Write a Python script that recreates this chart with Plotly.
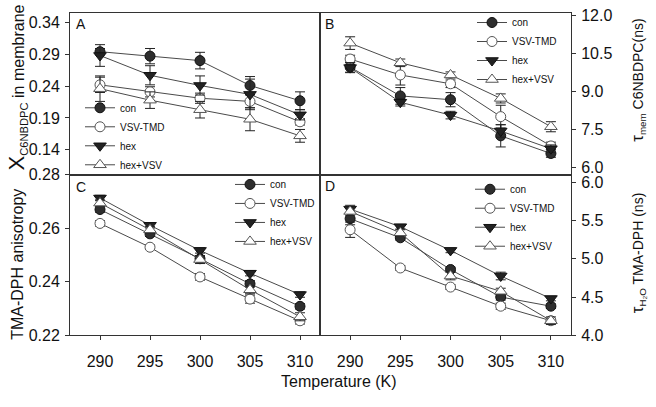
import plotly.graph_objects as go

temps = [290, 295, 300, 305, 310]
series = ["con", "VSV-TMD", "hex", "hex+VSV"]

# Panel A: X_C6NBDPC in membrane
a_con = [0.294, 0.287, 0.280, 0.241, 0.217]
a_con_err = [0.005, 0.012, 0.013, 0.014, 0.014]
a_vsv = [0.242, 0.231, 0.221, 0.216, 0.184]
a_vsv_err = [0.012, 0.008, 0.008, 0.010, 0.005]
a_hex = [0.288, 0.257, 0.241, 0.227, 0.195]
a_hex_err = [0.017, 0.015, 0.015, 0.024, 0.008]
a_hv = [0.236, 0.218, 0.203, 0.188, 0.162]
a_hv_err = [0.020, 0.013, 0.013, 0.018, 0.010]

# Panel B: tau_mem C6NBDPC (ns)
b_con = [9.96, 8.82, 8.67, 7.24, 6.54]
b_con_err = [0.20, 0.33, 0.28, 0.44, 0.15]
b_vsv = [10.28, 9.65, 9.30, 8.00, 6.84]
b_vsv_err = [0.15, 0.40, 0.15, 0.45, 0.15]
b_hex = [9.94, 8.57, 8.06, 7.43, 6.73]
b_hex_err = [0.20, 0.15, 0.15, 0.25, 0.15]
b_hv = [10.91, 10.13, 9.65, 8.72, 7.60]
b_hv_err = [0.25, 0.15, 0.12, 0.18, 0.20]

# Panel C: TMA-DPH anisotropy
c_con = [0.2670, 0.2579, 0.2486, 0.2392, 0.2308]
c_con_err = [0.0010, 0.0010, 0.0010, 0.0012, 0.0010]
c_vsv = [0.2618, 0.2529, 0.2418, 0.2335, 0.2254]
c_vsv_err = [0.0010, 0.0008, 0.0012, 0.0015, 0.0012]
c_hex = [0.2713, 0.2611, 0.2517, 0.2432, 0.2352]
c_hex_err = [0.0010, 0.0010, 0.0010, 0.0010, 0.0010]
c_hv = [0.2694, 0.2594, 0.2483, 0.2370, 0.2269]
c_hv_err = [0.0012, 0.0012, 0.0015, 0.0015, 0.0015]

# Panel D: tau_H2O TMA-DPH (ns)
d_con = [5.525, 5.275, 4.86, 4.50, 4.38]
d_con_err = [0.08, 0.03, 0.03, 0.04, 0.03]
d_vsv = [5.38, 4.88, 4.63, 4.38, 4.19]
d_vsv_err = [0.10, 0.03, 0.03, 0.04, 0.03]
d_hex = [5.65, 5.42, 5.11, 4.775, 4.48]
d_hex_err = [0.05, 0.03, 0.03, 0.05, 0.03]
d_hv = [5.62, 5.34, 4.775, 4.575, 4.19]
d_hv_err = [0.05, 0.04, 0.05, 0.04, 0.05]

panels = [
    ([a_con, a_vsv, a_hex, a_hv], [a_con_err, a_vsv_err, a_hex_err, a_hv_err]),
    ([b_con, b_vsv, b_hex, b_hv], [b_con_err, b_vsv_err, b_hex_err, b_hv_err]),
    ([c_con, c_vsv, c_hex, c_hv], [c_con_err, c_vsv_err, c_hex_err, c_hv_err]),
    ([d_con, d_vsv, d_hex, d_hv], [d_con_err, d_vsv_err, d_hex_err, d_hv_err]),
]

styles = [
    dict(symbol="circle", size=10, color="#2e2e2e", line=dict(color="#111111", width=1)),
    dict(symbol="circle", size=10, color="#ffffff", line=dict(color="#555555", width=1)),
    dict(symbol="triangle-down", size=11, color="#222222", line=dict(color="#111111", width=1)),
    dict(symbol="triangle-up", size=11, color="#ffffff", line=dict(color="#555555", width=1)),
]

FONT = "Liberation Sans, Arial, sans-serif"
TXT = "#111111"
fig = go.Figure()
legend_names = ["legend", "legend2", "legend3", "legend4"]
for p, (vals, errs) in enumerate(panels):
    ax = "" if p == 0 else str(p + 1)
    for s in range(4):
        fig.add_trace(go.Scatter(
            x=temps, y=vals[s], name=series[s], mode="lines+markers",
            xaxis="x" + ax, yaxis="y" + ax,
            line=dict(color="#4a4a4a", width=1),
            marker=styles[s],
            error_y=dict(type="data", array=errs[s], color="#222222", thickness=1, width=5),
            legend=legend_names[p],
        ))

W, H = 656, 407
x0, xm, x1 = 70 / W, 320 / W, 571 / W
yt, ym, yb = 1 - 5 / H, 1 - 174 / H, 1 - 341.5 / H

tickfont = dict(family=FONT, size=16, color=TXT)
base_x = dict(range=[287, 312], showgrid=False, zeroline=False, showline=True, mirror=True,
              linecolor="#333333", linewidth=1, tickvals=temps)
base_y = dict(showgrid=False, zeroline=False, showline=True, mirror=True,
              linecolor="#333333", linewidth=1, ticks="outside", ticklen=4, tickcolor="#333333",
              tickfont=tickfont, ticklabelstandoff=2)

fig.update_layout(
    width=W, height=H, margin=dict(l=0, r=0, t=0, b=0),
    paper_bgcolor="white", plot_bgcolor="white",
    font=dict(family=FONT, color=TXT),
    xaxis=dict(base_x, domain=[x0, xm], anchor="y", showticklabels=False, ticks=""),
    xaxis2=dict(base_x, domain=[xm, x1], anchor="y2", showticklabels=False, ticks=""),
    xaxis3=dict(base_x, domain=[x0, xm], anchor="y3", ticks="outside", ticklen=4,
                tickcolor="#333333", tickfont=tickfont, ticklabelstandoff=8),
    xaxis4=dict(base_x, domain=[xm, x1], anchor="y4", ticks="outside", ticklen=4,
                tickcolor="#333333", tickfont=tickfont, ticklabelstandoff=8),
    yaxis=dict(base_y, domain=[ym, yt], anchor="x", range=[0.101, 0.355],
               tickvals=[0.14, 0.19, 0.24, 0.29, 0.34], tickformat=".2f"),
    yaxis2=dict(base_y, domain=[ym, yt], anchor="x2", side="right", range=[5.70, 12.11],
                tickvals=[6.0, 7.5, 9.0, 10.5, 12.0], tickformat=".1f"),
    yaxis3=dict(base_y, domain=[yb, ym], anchor="x3", range=[0.22, 0.28],
                tickvals=[0.22, 0.24, 0.26, 0.28], tickformat=".2f"),
    yaxis4=dict(base_y, domain=[yb, ym], anchor="x4", side="right", range=[4.0, 6.1],
                tickvals=[4.0, 4.5, 5.0, 5.5, 6.0], tickformat=".1f"),
)

leg_common = dict(bgcolor="rgba(0,0,0,0)", borderwidth=0, font=dict(family=FONT, size=10, color=TXT),
                  xanchor="left", yanchor="top", traceorder="normal", itemwidth=30)
fig.update_layout(
    legend=dict(leg_common, x=80 / W, y=1 - 89 / H),
    legend2=dict(leg_common, x=472 / W, y=1 - 0 / H),
    legend3=dict(leg_common, x=230 / W, y=1 - 169 / H),
    legend4=dict(leg_common, x=470 / W, y=1 - 174 / H),
)

ann = []
for txt, px, py in [("A", 80.5, 16.5), ("B", 329.5, 17), ("C", 80.5, 187), ("D", 329.5, 186)]:
    ann.append(dict(text=txt, x=px / W, y=1 - py / H, xref="paper", yref="paper",
                    showarrow=False, font=dict(family=FONT, size=14, color=TXT),
                    xanchor="center", yanchor="middle"))
titles = [
    ("<span style='font-size:22px'>X</span><sub>C6NBDPC</sub> in membrane", 17, 83, 16),
    ("TMA-DPH anisotropy", 18, 268, 16),
    ("<span style='font-size:17px'>τ</span><sub>mem</sub> C6NBDPC(ns)", 638, 76, 14),
    ("<span style='font-size:17px'>τ</span><sub>H₂O</sub> TMA-DPH (ns)", 638, 256, 14),
]
for txt, px, py, fs in titles:
    ann.append(dict(text=txt, x=px / W, y=1 - py / H, xref="paper", yref="paper",
                    showarrow=False, textangle=-90, font=dict(family=FONT, size=fs, color=TXT),
                    xanchor="center", yanchor="middle"))
ann.append(dict(text="Temperature (K)", x=339 / W, y=1 - 390 / H, xref="paper", yref="paper",
                showarrow=False, font=dict(family=FONT, size=16, color=TXT),
                xanchor="center", yanchor="middle"))
fig.update_layout(annotations=ann)

fig.write_html("out.html", config={"displayModeBar": False},
               post_script="document.body.style.margin='0px';")
